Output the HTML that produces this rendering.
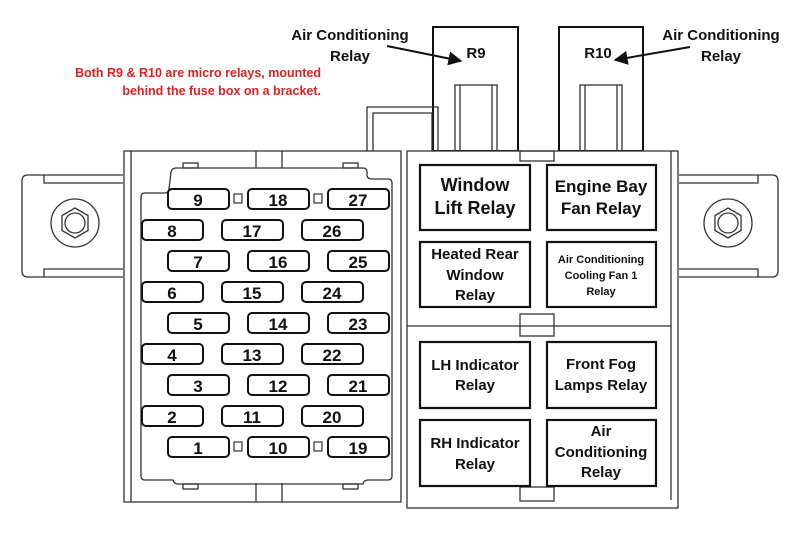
<!DOCTYPE html>
<html><head><style>
html,body{margin:0;padding:0;background:#fff;}
svg{display:block;}
text{font-family:"Liberation Sans",Arial,sans-serif;font-weight:bold;}
</style></head><body>
<svg width="800" height="534" viewBox="0 0 800 534" xmlns="http://www.w3.org/2000/svg">
<defs>
<marker id="ah" viewBox="0 0 10 10" refX="9" refY="5" markerWidth="7" markerHeight="7" orient="auto"><path d="M0,0 L10,5 L0,10 z" fill="#111"/></marker>
</defs>
<g fill="none" stroke="#333" stroke-width="1.3">
<!-- left flange -->
<path d="M123,175 L28,175 Q22,175 22,181 L22,271 Q22,277 28,277 L123,277"/>
<path d="M44,175 L44,183 L123,183 M44,277 L44,269 L123,269"/>
<circle cx="75" cy="223" r="24"/>
<polygon points="75,208 88,215.5 88,230.5 75,238 62,230.5 62,215.5"/>
<circle cx="75" cy="223" r="10"/>
<!-- right flange -->
<path d="M679,175 L772,175 Q778,175 778,181 L778,271 Q778,277 772,277 L679,277"/>
<path d="M758,175 L758,183 L679,183 M758,277 L758,269 L679,269"/>
<circle cx="728" cy="223" r="24"/>
<polygon points="728,208 741,215.5 741,230.5 728,238 715,230.5 715,215.5"/>
<circle cx="728" cy="223" r="10"/>
<!-- R9 / R10 -->
<rect x="433" y="27" width="85" height="124" stroke="#111" stroke-width="2"/>
<rect x="455" y="85" width="42" height="66"/>
<line x1="460" y1="85" x2="460" y2="151"/><line x1="492" y1="85" x2="492" y2="151"/>
<rect x="559" y="27" width="84" height="124" stroke="#111" stroke-width="2"/>
<rect x="580" y="85" width="42" height="66"/>
<line x1="585" y1="85" x2="585" y2="151"/><line x1="617" y1="85" x2="617" y2="151"/>
<!-- small box -->
<path d="M367,151 L367,107 L438,107 L438,151"/>
<path d="M373,151 L373,113 L432,113 L432,151"/>
<!-- left panel -->
<rect x="124" y="151" width="277" height="351" fill="#fff"/>
<line x1="131" y1="151" x2="131" y2="502"/>
<line x1="256" y1="151" x2="256" y2="168"/><line x1="282" y1="151" x2="282" y2="168"/>
<line x1="256" y1="483" x2="256" y2="502"/><line x1="282" y1="483" x2="282" y2="502"/>
<path d="M176,168 L363,168 Q367,168 367,172 L367,176 Q368,179 372,179 L388,179 Q392,179 392,183 L392,476 Q392,480 388,480 L368,480 Q364,480 363,484 L178,484 Q174,484 173,480 L145,480 Q141,480 141,476 L141,197 Q141,193 145,193 L165,193 Q168,193 169,189 L171,172 Q172,168 176,168 Z"/>
<rect x="183" y="163" width="15" height="5"/><rect x="343" y="163" width="15" height="5"/>
<rect x="183" y="484" width="15" height="5"/><rect x="343" y="484" width="15" height="5"/>
<!-- right panel -->
<rect x="407" y="151" width="271" height="357" fill="#fff"/>
<line x1="671" y1="151" x2="671" y2="500"/>
<line x1="407" y1="326" x2="671" y2="326"/>
<rect x="520" y="151" width="34" height="10"/>
<rect x="520" y="314" width="34" height="22"/>
<rect x="520" y="487" width="34" height="14"/>
</g>
<!-- fuses -->
<g fill="#fff" stroke="#111" stroke-width="2">
<rect x="168" y="189" width="61" height="20" rx="4"/><rect x="248" y="189" width="61" height="20" rx="4"/><rect x="328" y="189" width="61" height="20" rx="4"/>
<rect x="142" y="220" width="61" height="20" rx="4"/><rect x="222" y="220" width="61" height="20" rx="4"/><rect x="302" y="220" width="61" height="20" rx="4"/>
<rect x="168" y="251" width="61" height="20" rx="4"/><rect x="248" y="251" width="61" height="20" rx="4"/><rect x="328" y="251" width="61" height="20" rx="4"/>
<rect x="142" y="282" width="61" height="20" rx="4"/><rect x="222" y="282" width="61" height="20" rx="4"/><rect x="302" y="282" width="61" height="20" rx="4"/>
<rect x="168" y="313" width="61" height="20" rx="4"/><rect x="248" y="313" width="61" height="20" rx="4"/><rect x="328" y="313" width="61" height="20" rx="4"/>
<rect x="142" y="344" width="61" height="20" rx="4"/><rect x="222" y="344" width="61" height="20" rx="4"/><rect x="302" y="344" width="61" height="20" rx="4"/>
<rect x="168" y="375" width="61" height="20" rx="4"/><rect x="248" y="375" width="61" height="20" rx="4"/><rect x="328" y="375" width="61" height="20" rx="4"/>
<rect x="142" y="406" width="61" height="20" rx="4"/><rect x="222" y="406" width="61" height="20" rx="4"/><rect x="302" y="406" width="61" height="20" rx="4"/>
<rect x="168" y="437" width="61" height="20" rx="4"/><rect x="248" y="437" width="61" height="20" rx="4"/><rect x="328" y="437" width="61" height="20" rx="4"/>
</g>
<g fill="none" stroke="#333" stroke-width="1.2">
<rect x="234" y="194" width="8" height="9"/><rect x="314" y="194" width="8" height="9"/>
<rect x="234" y="442" width="8" height="9"/><rect x="314" y="442" width="8" height="9"/>
</g>
<g font-size="17" fill="#111" text-anchor="middle">
<text x="198" y="206">9</text><text x="278" y="206">18</text><text x="358" y="206">27</text>
<text x="172" y="237">8</text><text x="252" y="237">17</text><text x="332" y="237">26</text>
<text x="198" y="268">7</text><text x="278" y="268">16</text><text x="358" y="268">25</text>
<text x="172" y="299">6</text><text x="252" y="299">15</text><text x="332" y="299">24</text>
<text x="198" y="330">5</text><text x="278" y="330">14</text><text x="358" y="330">23</text>
<text x="172" y="361">4</text><text x="252" y="361">13</text><text x="332" y="361">22</text>
<text x="198" y="392">3</text><text x="278" y="392">12</text><text x="358" y="392">21</text>
<text x="172" y="423">2</text><text x="252" y="423">11</text><text x="332" y="423">20</text>
<text x="198" y="454">1</text><text x="278" y="454">10</text><text x="358" y="454">19</text>
</g>
<!-- relays -->
<g fill="#fff" stroke="#111" stroke-width="2.2">
<rect x="420" y="165" width="110" height="65"/><rect x="547" y="165" width="109" height="65"/>
<rect x="420" y="242" width="110" height="65"/><rect x="547" y="242" width="109" height="65"/>
<rect x="420" y="342" width="110" height="66"/><rect x="547" y="342" width="109" height="66"/>
<rect x="420" y="420" width="110" height="66"/><rect x="547" y="420" width="109" height="66"/>
</g>
<g fill="#111" text-anchor="middle">
<text font-size="18" x="475" y="191">Window</text><text font-size="18" x="475" y="214">Lift Relay</text>
<text font-size="17" x="601" y="192">Engine Bay</text><text font-size="17" x="601" y="214">Fan Relay</text>
<text font-size="15" x="475" y="259">Heated Rear</text><text font-size="15" x="475" y="280">Window</text><text font-size="15" x="475" y="300">Relay</text>
<text font-size="11" x="601" y="263">Air Conditioning</text><text font-size="11" x="601" y="279">Cooling Fan 1</text><text font-size="11" x="601" y="295">Relay</text>
<text font-size="15" x="475" y="370">LH Indicator</text><text font-size="15" x="475" y="390">Relay</text>
<text font-size="15" x="601" y="369">Front Fog</text><text font-size="15" x="601" y="390">Lamps Relay</text>
<text font-size="15" x="475" y="448">RH Indicator</text><text font-size="15" x="475" y="469">Relay</text>
<text font-size="15" x="601" y="436">Air</text><text font-size="15" x="601" y="457">Conditioning</text><text font-size="15" x="601" y="477">Relay</text>
<text font-size="15" x="476" y="58">R9</text><text font-size="15" x="598" y="58">R10</text>
<text font-size="15" x="350" y="40">Air Conditioning</text><text font-size="15" x="350" y="61">Relay</text>
<text font-size="15" x="721" y="40">Air Conditioning</text><text font-size="15" x="721" y="61">Relay</text>
</g>
<g stroke="#111" stroke-width="2" marker-end="url(#ah)">
<line x1="387" y1="46" x2="461" y2="61"/>
<line x1="690" y1="47" x2="615" y2="60"/>
</g>
<g fill="#e02020" font-size="12.5" text-anchor="end">
<text x="321" y="77">Both R9 &amp; R10 are micro relays, mounted</text>
<text x="321" y="95">behind the fuse box on a bracket.</text>
</g>
</svg>
</body></html>
